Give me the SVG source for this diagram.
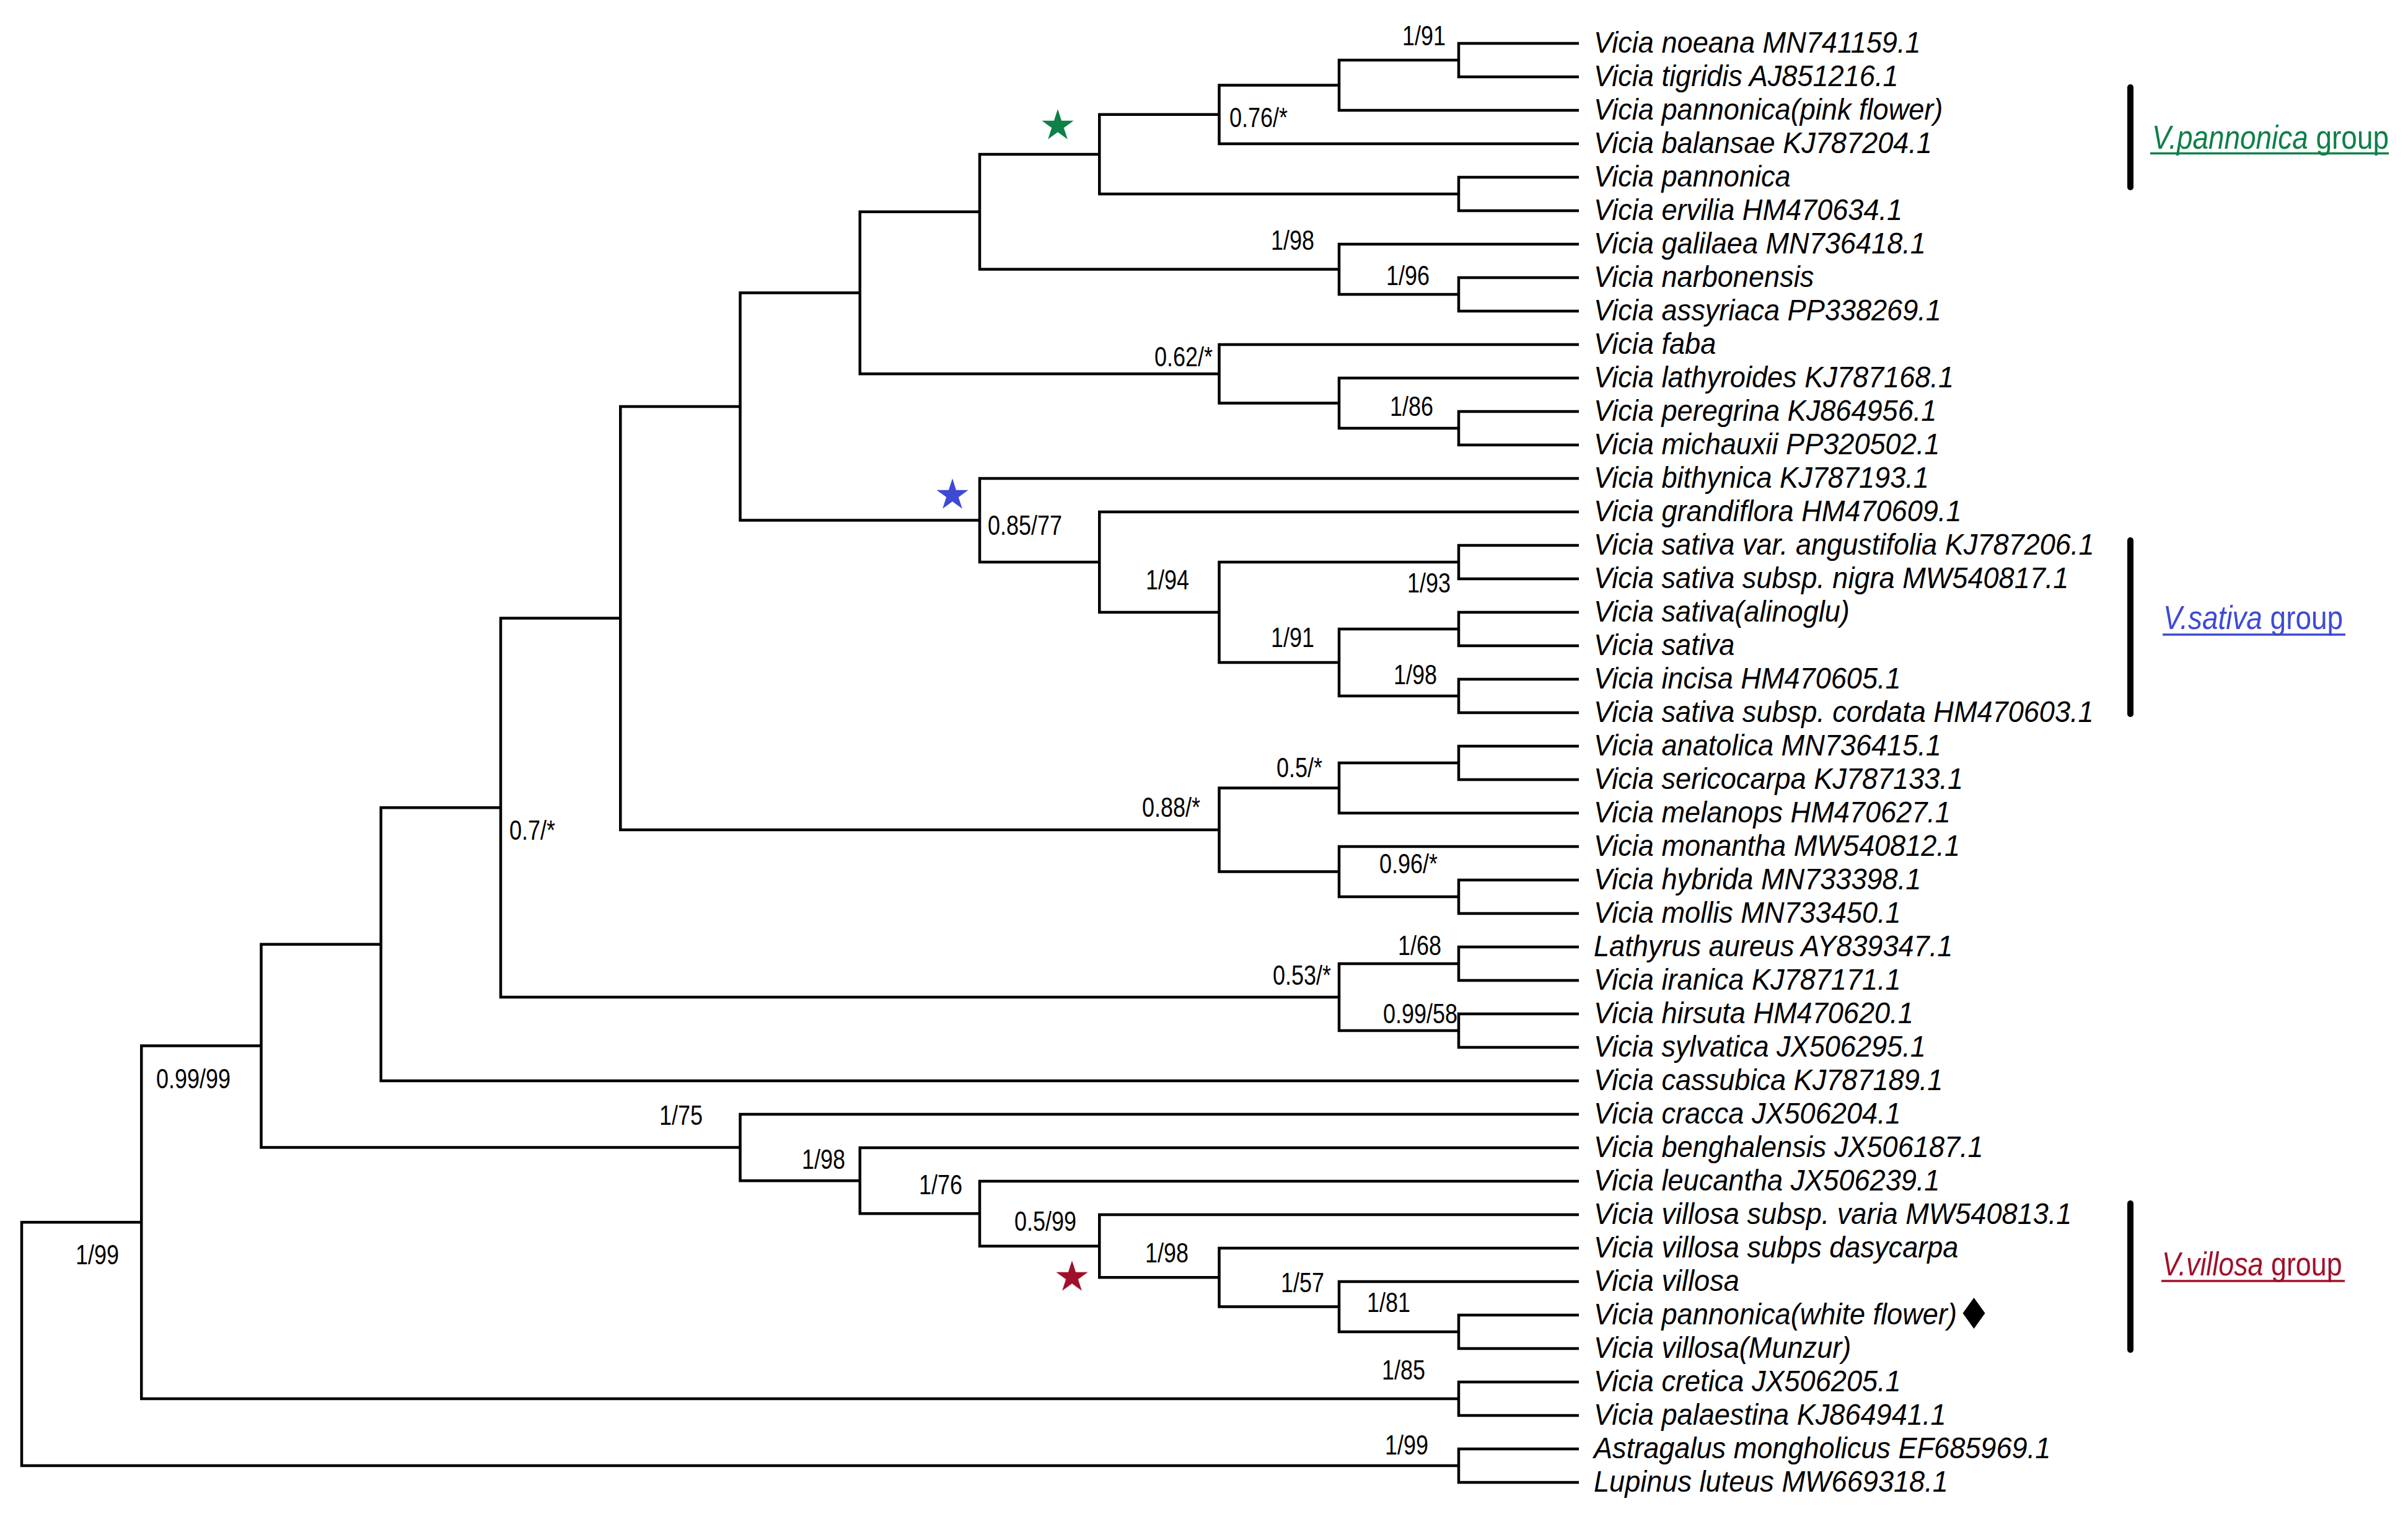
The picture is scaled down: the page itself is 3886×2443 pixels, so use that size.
<svg xmlns="http://www.w3.org/2000/svg" xmlns:xlink="http://www.w3.org/1999/xlink" width="3886" height="2443" viewBox="0 0 3886 2443">
<style>
.br{fill:none;stroke:#000;stroke-width:4.5;stroke-linejoin:miter;stroke-linecap:butt}
.tip{font-family:"Liberation Sans",Arial,sans-serif;font-style:italic;font-size:47.5px;fill:#000}
.bs{font-family:"Liberation Sans",Arial,sans-serif;font-size:45px;fill:#000}
.e{text-anchor:end}
.grp{font-family:"Liberation Sans",Arial,sans-serif;font-size:54px}
.it{font-style:italic}
.bar{stroke:#000;stroke-width:10;stroke-linecap:round}
</style>
<defs>
<polygon id="star" points="0,-27 6.05,-8.33 25.68,-8.34 9.8,3.18 15.87,21.84 0,10.3 -15.87,21.84 -9.8,3.18 -25.68,-8.34 -6.05,-8.33"/>
</defs>
<rect x="0" y="0" width="3886" height="2443" fill="#fff"/>
<g id="connectors" class="br">
<path d="M2548 70H2354V124H2548"/>
<path d="M2354 97H2161V178H2548"/>
<path d="M2161 137.5H1967.5V232H2548"/>
<path d="M2548 286H2354V340H2548"/>
<path d="M1967.5 184.75H1774.25V313H2354"/>
<path d="M2548 448H2354V502H2548"/>
<path d="M2548 394H2161V475H2354"/>
<path d="M1774.25 248.88H1581V434.5H2161"/>
<path d="M2548 664H2354V718H2548"/>
<path d="M2548 610H2161V691H2354"/>
<path d="M2548 556H1967.5V650.5H2161"/>
<path d="M1581 341.69H1387.75V603.25H1967.5"/>
<path d="M2548 880H2354V934H2548"/>
<path d="M2548 988H2354V1042H2548"/>
<path d="M2548 1096H2354V1150H2548"/>
<path d="M2354 1015H2161V1123H2354"/>
<path d="M2354 907H1967.5V1069H2161"/>
<path d="M2548 826H1774.25V988H1967.5"/>
<path d="M2548 772H1581V907H1774.25"/>
<path d="M1387.75 472.47H1194.5V839.5H1581"/>
<path d="M2548 1204H2354V1258H2548"/>
<path d="M2354 1231H2161V1312H2548"/>
<path d="M2548 1420H2354V1474H2548"/>
<path d="M2548 1366H2161V1447H2354"/>
<path d="M2161 1271.5H1967.5V1406.5H2161"/>
<path d="M1194.5 655.98H1001.25V1339H1967.5"/>
<path d="M2548 1528H2354V1582H2548"/>
<path d="M2548 1636H2354V1690H2548"/>
<path d="M2354 1555H2161V1663H2354"/>
<path d="M1001.25 997.49H808V1609H2161"/>
<path d="M808 1303.25H614.75V1744H2548"/>
<path d="M2548 2122H2354V2176H2548"/>
<path d="M2548 2068H2161V2149H2354"/>
<path d="M2548 2014H1967.5V2108.5H2161"/>
<path d="M2548 1960H1774.25V2061.25H1967.5"/>
<path d="M2548 1906H1581V2010.63H1774.25"/>
<path d="M2548 1852H1387.75V1958.31H1581"/>
<path d="M2548 1798H1194.5V1905.16H1387.75"/>
<path d="M614.75 1523.63H421.5V1851.58H1194.5"/>
<path d="M2548 2230H2354V2284H2548"/>
<path d="M421.5 1687.6H228.25V2257H2354"/>
<path d="M2548 2338H2354V2392H2548"/>
<path d="M228.25 1972.3H35V2365H2354"/>
</g>
<g id="support" class="bs">
<text class="e" transform="translate(2333,73) scale(0.8,1)">1/91</text>
<text transform="translate(1984,205) scale(0.8,1)">0.76/*</text>
<text class="e" transform="translate(2121,403) scale(0.8,1)">1/98</text>
<text class="e" transform="translate(2307,460) scale(0.8,1)">1/96</text>
<text class="e" transform="translate(1957,591) scale(0.8,1)">0.62/*</text>
<text class="e" transform="translate(2313,671) scale(0.8,1)">1/86</text>
<text transform="translate(1594,863) scale(0.8,1)">0.85/77</text>
<text class="e" transform="translate(1919,951) scale(0.8,1)">1/94</text>
<text class="e" transform="translate(2341,956) scale(0.8,1)">1/93</text>
<text class="e" transform="translate(2121,1044) scale(0.8,1)">1/91</text>
<text class="e" transform="translate(2319,1104) scale(0.8,1)">1/98</text>
<text class="e" transform="translate(2134,1254) scale(0.8,1)">0.5/*</text>
<text class="e" transform="translate(1937,1318) scale(0.8,1)">0.88/*</text>
<text class="e" transform="translate(2320,1409) scale(0.8,1)">0.96/*</text>
<text class="e" transform="translate(2326,1541) scale(0.8,1)">1/68</text>
<text class="e" transform="translate(2148,1589) scale(0.8,1)">0.53/*</text>
<text class="e" transform="translate(2352,1651) scale(0.8,1)">0.99/58</text>
<text transform="translate(822,1355) scale(0.8,1)">0.7/*</text>
<text transform="translate(252,1756) scale(0.8,1)">0.99/99</text>
<text class="e" transform="translate(1134,1815) scale(0.8,1)">1/75</text>
<text class="e" transform="translate(1364,1886) scale(0.8,1)">1/98</text>
<text class="e" transform="translate(1553,1927) scale(0.8,1)">1/76</text>
<text class="e" transform="translate(1737,1986) scale(0.8,1)">0.5/99</text>
<text class="e" transform="translate(1918,2037) scale(0.8,1)">1/98</text>
<text class="e" transform="translate(2137,2085) scale(0.8,1)">1/57</text>
<text class="e" transform="translate(2276,2117) scale(0.8,1)">1/81</text>
<text class="e" transform="translate(2300,2226) scale(0.8,1)">1/85</text>
<text class="e" transform="translate(2305,2347) scale(0.8,1)">1/99</text>
<text transform="translate(122,2040) scale(0.8,1)">1/99</text>
</g>
<g id="markers">
<use xlink:href="#star" href="#star" x="1707" y="203" fill="#0e8048"/>
<use xlink:href="#star" href="#star" x="1537" y="799" fill="#3e4ad4"/>
<use xlink:href="#star" href="#star" x="1730" y="2061" fill="#a0102a"/>
<polygon points="3185.5,2094 3203.5,2119 3185.5,2144 3167.5,2119" fill="#000"/>
</g>
<g id="tips" class="tip" transform="translate(2572,0) scale(0.95,1)">
<g id="tip00"><text x="0" y="85">Vicia noeana MN741159.1</text></g>
<g id="tip01"><text x="0" y="139">Vicia tigridis AJ851216.1</text></g>
<g id="tip02"><text x="0" y="193">Vicia pannonica(pink flower)</text></g>
<g id="tip03"><text x="0" y="247">Vicia balansae KJ787204.1</text></g>
<g id="tip04"><text x="0" y="301">Vicia pannonica</text></g>
<g id="tip05"><text x="0" y="355">Vicia ervilia HM470634.1</text></g>
<g id="tip06"><text x="0" y="409">Vicia galilaea MN736418.1</text></g>
<g id="tip07"><text x="0" y="463">Vicia narbonensis</text></g>
<g id="tip08"><text x="0" y="517">Vicia assyriaca PP338269.1</text></g>
<g id="tip09"><text x="0" y="571">Vicia faba</text></g>
<g id="tip10"><text x="0" y="625">Vicia lathyroides KJ787168.1</text></g>
<g id="tip11"><text x="0" y="679">Vicia peregrina KJ864956.1</text></g>
<g id="tip12"><text x="0" y="733">Vicia michauxii PP320502.1</text></g>
<g id="tip13"><text x="0" y="787">Vicia bithynica KJ787193.1</text></g>
<g id="tip14"><text x="0" y="841">Vicia grandiflora HM470609.1</text></g>
<g id="tip15"><text x="0" y="895">Vicia sativa var. angustifolia KJ787206.1</text></g>
<g id="tip16"><text x="0" y="949">Vicia sativa subsp. nigra MW540817.1</text></g>
<g id="tip17"><text x="0" y="1003">Vicia sativa(alinoglu)</text></g>
<g id="tip18"><text x="0" y="1057">Vicia sativa</text></g>
<g id="tip19"><text x="0" y="1111">Vicia incisa HM470605.1</text></g>
<g id="tip20"><text x="0" y="1165">Vicia sativa subsp. cordata HM470603.1</text></g>
<g id="tip21"><text x="0" y="1219">Vicia anatolica MN736415.1</text></g>
<g id="tip22"><text x="0" y="1273">Vicia sericocarpa KJ787133.1</text></g>
<g id="tip23"><text x="0" y="1327">Vicia melanops HM470627.1</text></g>
<g id="tip24"><text x="0" y="1381">Vicia monantha MW540812.1</text></g>
<g id="tip25"><text x="0" y="1435">Vicia hybrida MN733398.1</text></g>
<g id="tip26"><text x="0" y="1489">Vicia mollis MN733450.1</text></g>
<g id="tip27"><text x="0" y="1543">Lathyrus aureus AY839347.1</text></g>
<g id="tip28"><text x="0" y="1597">Vicia iranica KJ787171.1</text></g>
<g id="tip29"><text x="0" y="1651">Vicia hirsuta HM470620.1</text></g>
<g id="tip30"><text x="0" y="1705">Vicia sylvatica JX506295.1</text></g>
<g id="tip31"><text x="0" y="1759">Vicia cassubica KJ787189.1</text></g>
<g id="tip32"><text x="0" y="1813">Vicia cracca JX506204.1</text></g>
<g id="tip33"><text x="0" y="1867">Vicia benghalensis JX506187.1</text></g>
<g id="tip34"><text x="0" y="1921">Vicia leucantha JX506239.1</text></g>
<g id="tip35"><text x="0" y="1975">Vicia villosa subsp. varia MW540813.1</text></g>
<g id="tip36"><text x="0" y="2029">Vicia villosa subps dasycarpa</text></g>
<g id="tip37"><text x="0" y="2083">Vicia villosa</text></g>
<g id="tip38"><text x="0" y="2137">Vicia pannonica(white flower)</text></g>
<g id="tip39"><text x="0" y="2191">Vicia villosa(Munzur)</text></g>
<g id="tip40"><text x="0" y="2245">Vicia cretica JX506205.1</text></g>
<g id="tip41"><text x="0" y="2299">Vicia palaestina KJ864941.1</text></g>
<g id="tip42"><text x="0" y="2353">Astragalus mongholicus EF685969.1</text></g>
<g id="tip43"><text x="0" y="2407">Lupinus luteus MW669318.1</text></g>
</g>
<g id="group-pannonica">
<line class="bar" x1="3438" y1="141" x2="3438" y2="302"/>
<text class="grp" fill="#0e8048" transform="translate(3473,240) scale(0.85,1)"><tspan class="it">V.pannonica</tspan> group</text>
<line x1="3470" y1="247.5" x2="3855" y2="247.5" stroke="#0e8048" stroke-width="3.5"/>
</g>
<g id="group-sativa">
<line class="bar" x1="3438" y1="872" x2="3438" y2="1152"/>
<text class="grp" fill="#3e4ad4" transform="translate(3491,1015) scale(0.85,1)"><tspan class="it">V.sativa</tspan> group</text>
<line x1="3490" y1="1024" x2="3785" y2="1024" stroke="#3e4ad4" stroke-width="3.5"/>
</g>
<g id="group-villosa">
<line class="bar" x1="3438" y1="1942" x2="3438" y2="2178"/>
<text class="grp" fill="#a0102a" transform="translate(3489,2058) scale(0.83,1)"><tspan class="it">V.villosa</tspan> group</text>
<line x1="3488" y1="2067" x2="3784" y2="2067" stroke="#a0102a" stroke-width="3.5"/>
</g>
</svg>
